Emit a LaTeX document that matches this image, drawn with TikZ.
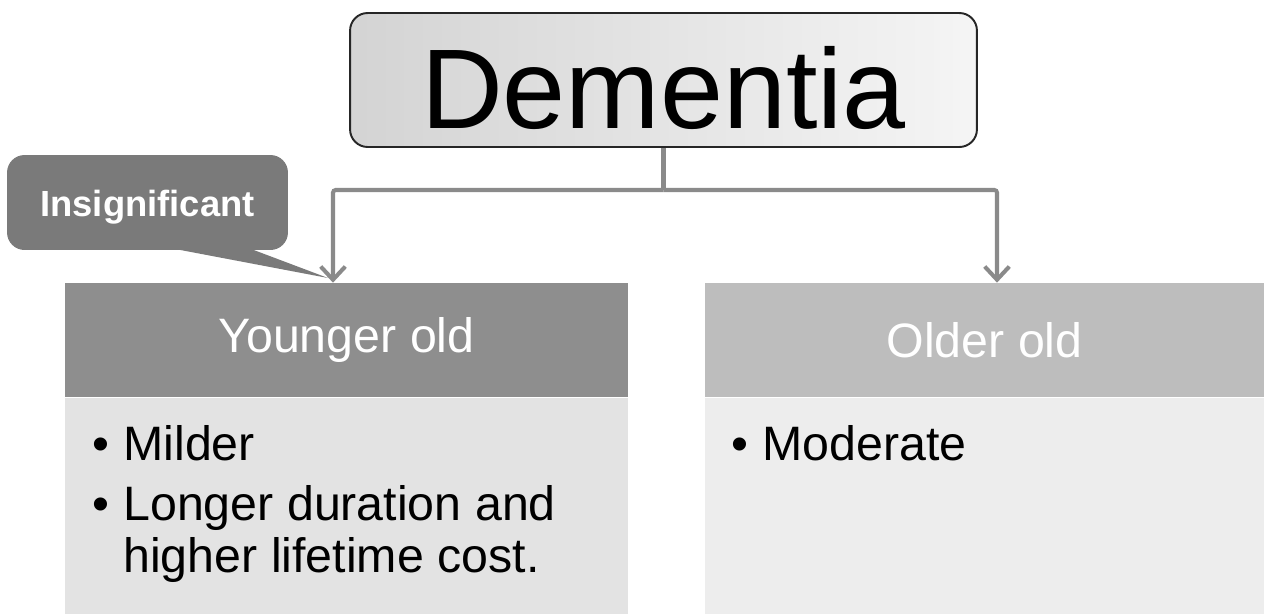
\documentclass[tikz,border=0pt]{standalone}
\usepackage{fontspec}
\setmainfont{Liberation Sans}
\usetikzlibrary{arrows.meta}
\definecolor{conngray}{HTML}{8A8A8A}
\definecolor{insigfill}{HTML}{7A7A7A}
\definecolor{youngfill}{HTML}{8E8E8E}
\definecolor{youngback}{HTML}{E3E3E3}
\definecolor{oldfill}{HTML}{BDBDBD}
\definecolor{oldback}{HTML}{EDEDED}
\begin{document}
\begin{tikzpicture}[x=0.02cm,y=-0.02cm,
  dembox/.style={draw=black!85, line width=1.1pt, rounded corners=10pt, left color=black!17, right color=black!4,
    minimum width=12.54cm, minimum height=2.68cm, inner sep=0pt, text height=56pt,
    font=\fontsize{64.5}{70}\selectfont},
  head/.style={minimum height=2.28cm, inner sep=0pt, text=white, font=\fontsize{27.5}{30}\selectfont},
  back/.style={minimum height=4.32cm, inner sep=0pt, anchor=north},
  item/.style={anchor=base west, inner sep=0pt, font=\fontsize{27.5}{30}\selectfont},
  insig/.style={fill=insigfill, rounded corners=10pt, minimum width=5.62cm, minimum height=1.9cm, inner sep=0pt,
    text=white, text height=20.7pt, font=\bfseries\fontsize{20.7}{24}\selectfont},
  conn/.style={draw=conngray, line width=2.3pt, rounded corners=1.5pt},
  tip/.style={-{Straight Barb[length=7.5pt,width=14pt]}}
]
\useasboundingbox (0,0) rectangle (1264,613);

\node[dembox] (dem) at (663.5,80) {Dementia};

\node[head, fill=youngfill, minimum width=11.26cm] (young) at (346.5,340) {Younger old};
\node[head, fill=oldfill, minimum width=11.18cm] (old) at (984.5,340) {Older old};
\node[back, fill=youngback, minimum width=11.26cm] (youngb) at (young.south) {};
\node[back, fill=oldback, minimum width=11.18cm] (oldb) at (old.south) {};

\node[item] (mild) at (123,460) {\llap{\textbullet\hspace{8pt}}Milder};
\node[item] (long) at (123,520) {\llap{\textbullet\hspace{8pt}}Longer duration and};
\node[item] (cost) at (123,572) {higher lifetime cost.};
\node[item] (mod) at (762,460) {\llap{\textbullet\hspace{8pt}}Moderate};

% links
\coordinate (split) at (663.5,190);
\path[conn] (dem.south) -- (split);
\path[conn,tip] (split) -| ([xshift=-0.27cm]young.north);
\path[conn,tip] (split) -| ([xshift=0.25cm]old.north);

% callout
\node[insig] (ins) at (147.5,202.5) {Insignificant};
\coordinate (ptr) at (328,278);
\fill[insigfill] ([xshift=0.51cm,yshift=1pt]ins.south) -- (ptr) -- ([xshift=2.05cm,yshift=1pt]ins.south) -- cycle;
\end{tikzpicture}
\end{document}
